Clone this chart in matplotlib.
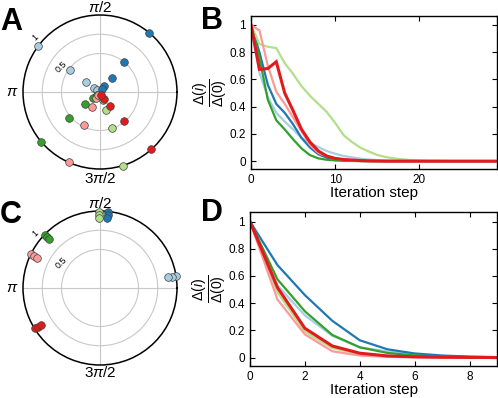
import numpy as np
import matplotlib
matplotlib.use("Agg")
import matplotlib.pyplot as plt

plt.rcParams['font.family'] = ['Liberation Sans', 'DejaVu Sans']
plt.rcParams['mathtext.fontset'] = 'custom'
plt.rcParams['mathtext.rm'] = 'Liberation Sans'
plt.rcParams['mathtext.it'] = 'Liberation Sans:italic'
plt.rcParams['mathtext.bf'] = 'Liberation Sans:bold'

names = ['lightblue', 'darkblue', 'lightgreen', 'green', 'pink', 'red']
colors = ['#a6cee3', '#1f78b4', '#b2df8a', '#33a02c', '#fb9a99', '#e31a1c']

# Panel A: polar points (theta in degrees, radius)
A_theta = {
    'lightblue': [143.4, 143.7, 143.0, 144.0, 145.0],
    'darkblue': [50.0, 51.0, 50.0, 54.0, 55.0],
    'lightgreen': [287.0, 288.6, 287.0, 288.0, 285.0],
    'green': [220.3, 220.0, 219.0, 220.0, 222.0],
    'pink': [246.2, 245.0, 241.0, 238.0, 240.0],
    'red': [311.8, 310.0, 305.0, 298.0, 290.0],
}
A_r = {
    'lightblue': [1.0, 0.485, 0.22, 0.097, 0.045],
    'darkblue': [1.0, 0.50, 0.234, 0.096, 0.044],
    'lightgreen': [1.0, 0.50, 0.25, 0.11, 0.05],
    'green': [1.0, 0.52, 0.246, 0.114, 0.05],
    'pink': [1.0, 0.48, 0.217, 0.097, 0.045],
    'red': [1.0, 0.49, 0.22, 0.10, 0.04],
}

# Panel C: polar points
C_theta = {
    'lightblue': [9.0, 9.0, 9.5],
    'darkblue': [84.0, 84.0, 84.5],
    'lightgreen': [90.5, 90.5, 91.0],
    'green': [136.0, 136.0, 136.5],
    'pink': [153.8, 154.0, 154.5],
    'red': [211.6, 212.0, 212.4],
}
C_r = {
    'lightblue': [1.0, 0.95, 0.90],
    'darkblue': [0.99, 0.95, 0.91],
    'lightgreen': [0.99, 0.95, 0.91],
    'green': [1.0, 0.96, 0.92],
    'pink': [1.0, 0.95, 0.905],
    'red': [0.99, 0.945, 0.90],
}

# Panel B: convergence curves
B_steps = list(range(0, 30))
B_vals = {
    'lightblue': [1.0, 0.65, 0.47, 0.355, 0.29, 0.233, 0.17, 0.135, 0.103, 0.074, 0.054,
                  0.038, 0.027, 0.018, 0.012, 0.008, 0.005, 0.003, 0.002, 0.001] + [0.0] * 10,
    'darkblue': [1.0, 0.80, 0.56, 0.42, 0.355, 0.27, 0.17, 0.10, 0.05, 0.025, 0.012,
                 0.006, 0.003, 0.001] + [0.0] * 16,
    'lightgreen': [1.0, 0.86, 0.84, 0.83, 0.72, 0.64, 0.55, 0.48, 0.42, 0.36, 0.28,
                   0.19, 0.14, 0.098, 0.07, 0.045, 0.03, 0.02, 0.013, 0.008, 0.005,
                   0.003, 0.002, 0.001] + [0.0] * 6,
    'green': [1.0, 0.76, 0.45, 0.30, 0.233, 0.16, 0.093, 0.044, 0.02, 0.01, 0.005,
              0.002, 0.001] + [0.0] * 17,
    'pink': [1.0, 0.96, 0.70, 0.51, 0.42, 0.32, 0.22, 0.12, 0.06, 0.035, 0.02,
             0.011, 0.006, 0.003, 0.001] + [0.0] * 15,
    'red': [1.0, 0.674, 0.68, 0.73, 0.50, 0.37, 0.233, 0.14, 0.074, 0.037, 0.02,
            0.012, 0.008, 0.004, 0.002, 0.001] + [0.0] * 14,
}

# Panel D
D_steps = list(range(0, 10))
D_vals = {
    'lightblue': [1.0, 0.53, 0.31, 0.16, 0.075, 0.045, 0.022, 0.01, 0.004, 0.002],
    'darkblue': [1.0, 0.68, 0.459, 0.27, 0.127, 0.061, 0.03, 0.015, 0.007, 0.003],
    'lightgreen': [1.0, 0.48, 0.19, 0.07, 0.025, 0.01, 0.004, 0.002, 0.001, 0.0],
    'green': [1.0, 0.575, 0.34, 0.166, 0.075, 0.034, 0.015, 0.007, 0.003, 0.001],
    'pink': [1.0, 0.427, 0.17, 0.046, 0.015, 0.005, 0.002, 0.001, 0.0, 0.0],
    'red': [1.0, 0.515, 0.215, 0.085, 0.032, 0.012, 0.005, 0.002, 0.001, 0.0],
}

theta_labels = [r'$\pi/2$', r'$\pi$', r'$3\pi/2$']
theta_label_angles = [90, 180, 270]

W, H = 498, 398
fig = plt.figure(figsize=(W / 100, H / 100), dpi=100)


def rect(left, top, right, bottom):
    return [left / W, 1 - bottom / H, (right - left) / W, (bottom - top) / H]


def polar_panel(pos, th, rr, label_r):
    ax = fig.add_axes(pos, projection='polar')
    ax.set_ylim(0, 1)
    ax.set_rgrids([0.5, 0.75], labels=['', ''])
    ax.set_thetagrids([0, 90, 180, 270], labels=['', '', '', ''])
    ax.grid(True, color='#c8c8c8', lw=0.8)
    ax.spines['polar'].set_linewidth(1.1)
    ax.spines['polar'].set_color('black')
    for n, c in zip(names, colors):
        ax.plot(np.deg2rad(th[n]), rr[n], 'o', ms=5.5, mfc=c, mec='#404040', mew=0.5,
                clip_on=False, zorder=5)
    for lab, ang, r in zip(theta_labels, theta_label_angles, label_r):
        ax.text(np.deg2rad(ang), r, lab, fontsize=11, ha='center', va='center',
                clip_on=False)
    ax.text(np.deg2rad(147), 0.6, '0.5', rotation=45, fontsize=6.5, ha='center',
            va='center')
    ax.text(np.deg2rad(140), 1.1, '1', rotation=45, fontsize=6.5, ha='center',
            va='center', clip_on=False)
    return ax


def line_panel(pos, steps, vals, xlim, xticks):
    ax = fig.add_axes(pos)
    for n, c in zip(names, colors):
        ax.plot(steps, vals[n], color=c, lw=2.2 if n == 'red' else 1.6,
                solid_joinstyle='miter')
    ax.set_xlim(*xlim)
    ax.set_ylim(-0.06, 1.068)
    ax.set_xticks(xticks)
    ax.set_yticks([0, 0.2, 0.4, 0.6, 0.8, 1])
    ax.set_yticklabels(['0', '0.2', '0.4', '0.6', '0.8', '1'])
    ax.tick_params(direction='in', top=True, right=True, length=3.5, width=0.8,
                   labelsize=8.5, pad=3.5)
    for s in ax.spines.values():
        s.set_linewidth(1.0)
    ax.set_xlabel('Iteration step', fontsize=11, labelpad=0)
    ax.set_ylabel(r'$\frac{\Delta(i)}{\Delta(0)}$', fontsize=14.5, labelpad=0)
    return ax


polar_panel(rect(23, 15, 177, 169), A_theta, A_r, [1.10, 1.14, 1.12])
polar_panel(rect(23, 211, 177, 365), C_theta, C_r, [1.10, 1.14, 1.10])
line_panel(rect(251, 15.7, 497, 169.3), B_steps, B_vals, (0, 29.2), [0, 10, 20])
line_panel(rect(250, 212.3, 497, 365.7), D_steps, D_vals, (0, 9), [0, 2, 4, 6, 8])

for lab, x, y in [('A', 0, 21.5), ('B', 201, 21), ('C', 0, 215), ('D', 201, 213)]:
    fig.text(x / W, 1 - y / H, lab, fontsize=22, fontweight='bold', ha='left',
             va='center')

fig.savefig('out.png', dpi=100)
